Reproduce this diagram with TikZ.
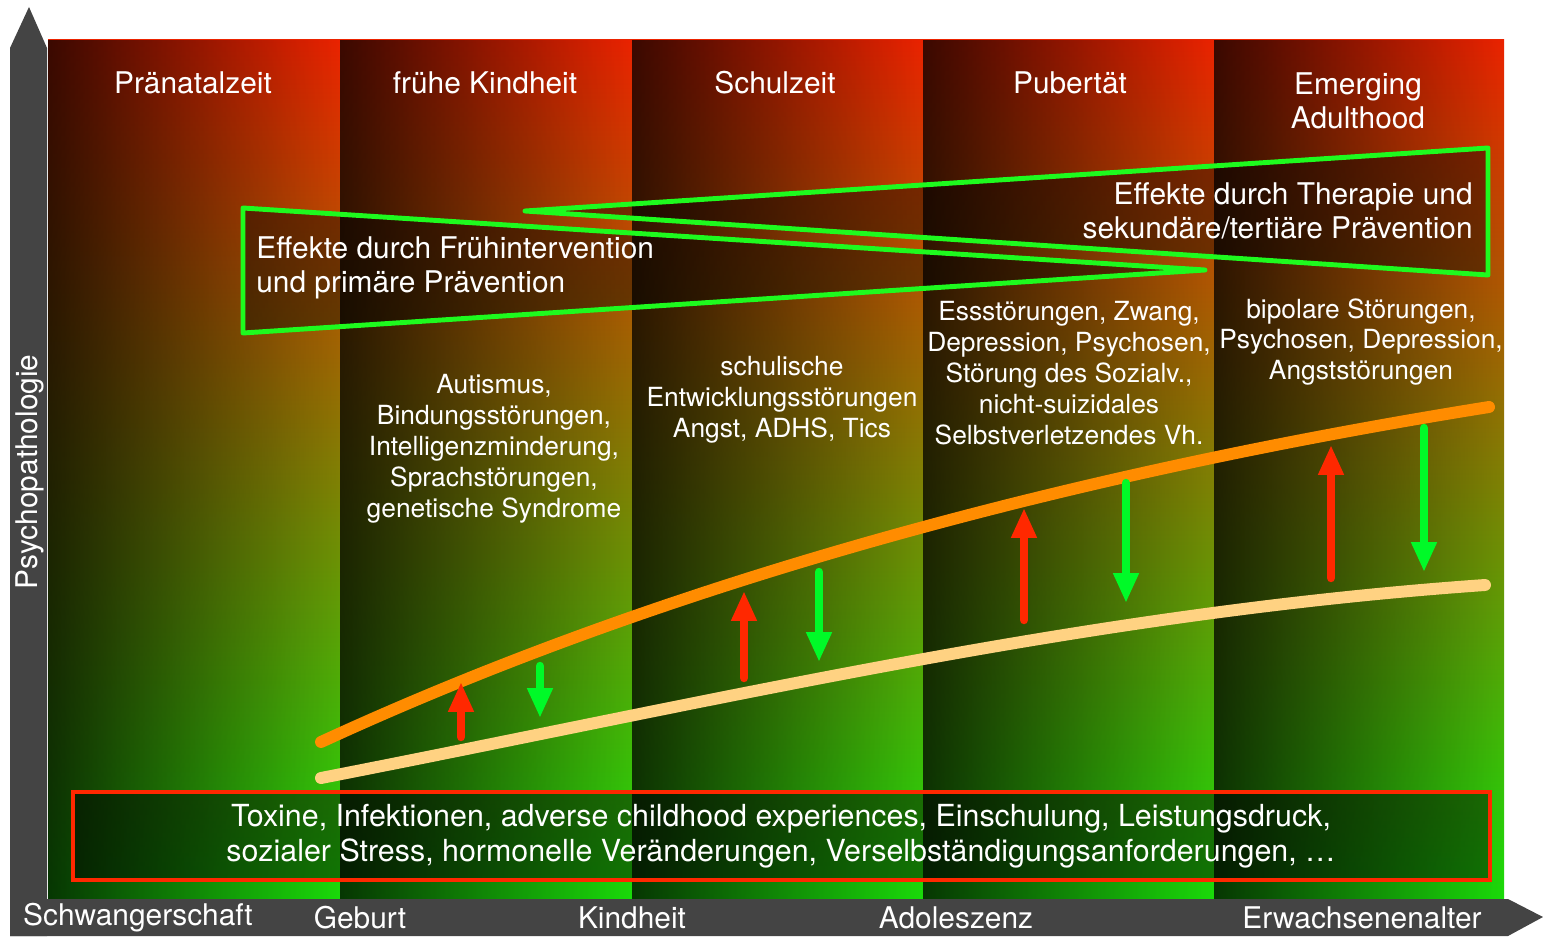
\documentclass[tikz,border=0pt]{standalone}
\usepackage{fontspec}
\setmainfont{TeX Gyre Heros}
\usepackage{tikz}
\usetikzlibrary{arrows.meta,fadings}

\definecolor{phasered}{RGB}{235,35,0}
\definecolor{phasemid}{RGB}{195,105,0}
\definecolor{phasegreen}{RGB}{25,220,10}
\definecolor{axisgray}{RGB}{68,68,68}
\definecolor{riskorange}{RGB}{255,140,0}
\definecolor{baseorange}{RGB}{255,210,130}
\definecolor{upred}{RGB}{255,40,0}
\definecolor{downgreen}{RGB}{0,250,40}
\definecolor{effectgreen}{RGB}{30,250,30}
\definecolor{boxred}{RGB}{255,40,0}

\begin{document}
\begin{tikzpicture}[x=2cm,y=2cm,
	phase/.style={top color=phasered, middle color=phasemid, bottom color=phasegreen},
	darken/.style={fill=black, fill opacity=0.75, path fading=east},
	effect/.style={draw=effectgreen, line width=2.8pt, line join=round, fill=black, fill opacity=0.4},
	curve/.style={line width=6.8pt, line cap=round},
	uparrow/.style={upred, line width=4.8pt, line cap=round, -{Triangle[width=13.6pt,length=17pt]}},
	downarrow/.style={downgreen, line width=4.8pt, line cap=round, -{Triangle[width=13.6pt,length=17pt]}},
	label/.style={text=white, inner sep=0pt, font=\fontsize{17}{19}\selectfont},
	disorder/.style={text=white, inner sep=0pt, align=center, font=\fontsize{15}{17.6}\selectfont}]
			\useasboundingbox (0,0) rectangle (15.43,9.36);
			\fill[white] (0,0) rectangle (15.43,9.36);
			
			% Lebensphasen
			\shade[phase] (0.48,0.36) rectangle (3.40,8.96);
			\fill[darken] (0.48,0.36) rectangle (3.40,8.96);
			\shade[phase] (3.40,0.36) rectangle (6.32,8.96);
			\fill[darken] (3.40,0.36) rectangle (6.32,8.96);
			\shade[phase] (6.32,0.36) rectangle (9.23,8.96);
			\fill[darken] (6.32,0.36) rectangle (9.23,8.96);
			\shade[phase] (9.23,0.36) rectangle (12.14,8.96);
			\fill[darken] (9.23,0.36) rectangle (12.14,8.96);
			\shade[phase] (12.14,0.36) rectangle (15.04,8.96);
			\fill[darken] (12.14,0.36) rectangle (15.04,8.96);
			
			\node[label] (praenatal) at (1.93,8.53) {Pränatalzeit};
			\node[label] (kindheit) at (4.85,8.53) {frühe Kindheit};
			\node[label] (schulzeit) at (7.75,8.53) {Schulzeit};
			\node[label] (pubertaet) at (10.70,8.53) {Pubertät};
			\node[label, align=center] (adulthood) at (13.58,8.35) {Emerging\\Adulthood};
			
			% Achsen
			\fill[axisgray] (0.10,0) -- (0.10,8.88) -- (0.29,9.29) -- (0.47,8.88) -- (0.47,0) -- cycle;
			\fill[axisgray] (0.10,0) -- (15.08,0) -- (15.43,0.19) -- (15.08,0.37) -- (0.10,0.37) -- cycle;
			\node[label, rotate=90] (psycho) at (0.30,4.64) {Psychopathologie};
			\node[label] (schwanger) at (1.38,0.18) {Schwangerschaft};
			\node[label] (geburt) at (3.60,0.18) {Geburt};
			\node[label] (kindheitaxis) at (6.32,0.18) {Kindheit};
			\node[label] (adoleszenz) at (9.56,0.18) {Adoleszenz};
			\node[label] (erwachsen) at (13.62,0.18) {Erwachsenenalter};
			
			% Effekte
			\draw[effect] (2.43,7.28) -- (12.05,6.66) -- (2.43,6.03) -- cycle;
			\draw[effect] (14.88,7.88) -- (5.25,7.25) -- (14.88,6.61) -- cycle;
			\node[label, anchor=west, align=left] (fruehtext) at (2.56,6.68) {Effekte durch Frühintervention\\und primäre Prävention};
			\node[label, anchor=east, align=right] (therapietext) at (14.73,7.25) {Effekte durch Therapie und\\sekundäre/tertiäre Prävention};
			
			% Stoerungen
			\node[disorder] (autismus) at (4.94,4.87) {Autismus,\\Bindungsstörungen,\\Intelligenzminderung,\\Sprachstörungen,\\genetische Syndrome};
			\node[disorder] (schulisch) at (7.82,5.36) {schulische\\Entwicklungsstörungen\\Angst, ADHS, Tics};
			\node[disorder] (essen) at (10.69,5.63) {Essstörungen, Zwang,\\Depression, Psychosen,\\Störung des Sozialv.,\\nicht-suizidales\\Selbstverletzendes Vh.};
			\node[disorder] (bipolar) at (13.61,5.94) {bipolare Störungen,\\Psychosen, Depression,\\Angststörungen};
			
			% Verlaeufe
			\draw[curve, riskorange] (3.21,1.94) .. controls (6.81,3.60) and (10.89,4.65) .. (14.89,5.29);
			\draw[curve, baseorange] (3.21,1.58) .. controls (7.21,2.36) and (10.85,3.23) .. (14.85,3.51);
			
			\draw[uparrow] (4.61,1.99) -- (4.61,2.54);
			\draw[downarrow] (5.40,2.70) -- (5.40,2.18);
			\draw[uparrow] (7.44,2.58) -- (7.44,3.45);
			\draw[downarrow] (8.19,3.64) -- (8.19,2.74);
			\draw[uparrow] (10.24,3.16) -- (10.24,4.28);
			\draw[downarrow] (11.26,4.53) -- (11.26,3.33);
			\draw[uparrow] (13.31,3.58) -- (13.31,4.91);
			\draw[downarrow] (14.24,5.08) -- (14.24,3.64);
			
			% Risikofaktoren
			\draw[draw=boxred, line width=2.8pt, fill=black, fill opacity=0.45] (0.73,0.56) rectangle (14.90,1.44);
			\node[label, align=center, font=\fontsize{17.3}{20}\selectfont] (risiko) at (7.81,1.0) {Toxine, Infektionen, adverse childhood experiences, Einschulung, Leistungsdruck,\\sozialer Stress, hormonelle Veränderungen, Verselbständigungsanforderungen, \dots};
			
		\end{tikzpicture}
\end{document}
